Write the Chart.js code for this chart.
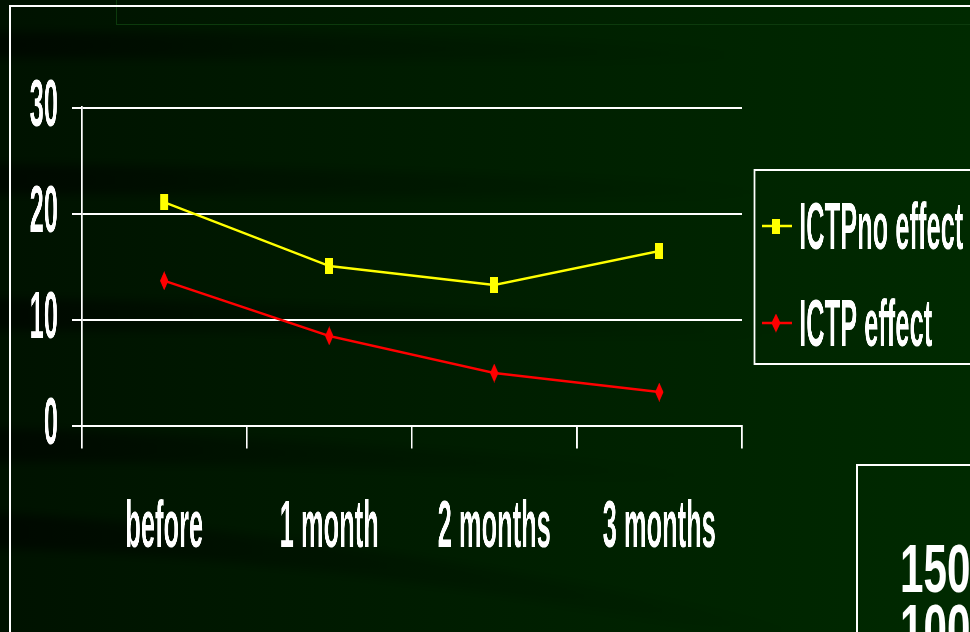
<!DOCTYPE html>
<html>
<head>
<meta charset="utf-8">
<title>ICTP</title>
<script src="https://cdn.jsdelivr.net/npm/chart.js@4.4.1/dist/chart.umd.min.js"></script>
<style>
  html, body { margin: 0; padding: 0; width: 970px; height: 632px; overflow: hidden; background: #001a00; }
  #slide { position: relative; width: 970px; height: 632px; overflow: hidden; }
  #bg { position: absolute; left: 0; top: 0; }
  /* the chart is drawn wide and squeezed horizontally, giving the tall narrow lettering */
  #wrap { position: absolute; left: 0; top: 0; width: 2600px; height: 632px;
          transform: scaleX(0.38); transform-origin: 0 0; }
  .rule-top  { position: absolute; left: 9px; top: 5px; width: 961px; height: 2px; background: #fff; }
  .rule-left { position: absolute; left: 9px; top: 5px; width: 2px; height: 627px; background: #fff; }
  .ghost { position: absolute; left: 116px; top: -10px; width: 900px; height: 33px; border: 1px solid #0c3a0c; }
  #panel { position: absolute; left: 856px; top: 464px; width: 200px; height: 220px; border: 2px solid #fff; }
  .num { position: absolute; left: 900px; font: bold 68px "Liberation Sans", Arial, sans-serif; line-height: 1;
         color: #fff; transform: scaleX(0.62); transform-origin: 0 0; white-space: nowrap; }
</style>
</head>
<body>
<div id="slide">
  <svg id="bg" width="970" height="632">
    <defs>
      <linearGradient id="base" x1="0" y1="0" x2="1" y2="0">
        <stop offset="0" stop-color="#001200"/>
        <stop offset="0.45" stop-color="#001d00"/>
        <stop offset="1" stop-color="#002a00"/>
      </linearGradient>
      <linearGradient id="fade" x1="0" y1="0" x2="1" y2="0">
        <stop offset="0" stop-color="#000" stop-opacity="0.55"/>
        <stop offset="0.35" stop-color="#000" stop-opacity="0.25"/>
        <stop offset="1" stop-color="#000" stop-opacity="0"/>
      </linearGradient>
      <filter id="soft"><feGaussianBlur stdDeviation="5"/></filter>
    </defs>
    <rect width="970" height="632" fill="url(#base)"/>
    <g filter="url(#soft)">
      <path d="M-20 32 Q 350 30 760 50 L 760 62 Q 350 60 -20 58 Z" fill="url(#fade)"/>
      <path d="M-20 164 Q 350 166 780 186 L 780 200 Q 350 194 -20 194 Z" fill="url(#fade)"/>
      <path d="M-20 298 Q 350 302 800 326 L 800 340 Q 350 332 -20 330 Z" fill="url(#fade)"/>
      <path d="M-20 428 Q 300 436 700 470 L 700 484 Q 300 462 -20 462 Z" fill="url(#fade)"/>
      <path d="M-20 512 Q 350 530 820 632 L 760 640 Q 330 556 -20 548 Z" fill="url(#fade)"/>
    </g>
  </svg>
  <div class="ghost"></div>
  <div class="rule-top"></div>
  <div class="rule-left"></div>
  <div id="panel"></div>
  <div class="num" style="top:534px">150</div>
  <div class="num" style="top:594px">100</div>
  <div id="wrap"><canvas id="chart"></canvas></div>
</div>
<script>
// Series data
const categories = ['before', '1 month', '2 months', '3 months'];
const noEffectValues = [21.1, 15.1, 13.3, 16.5];
const effectValues = [13.7, 8.5, 5.0, 3.2];
const seriesNames = ['ICTPno effect', 'ICTP effect'];
const yTicks = [0, 10, 20, 30];

const FONT = '"Liberation Sans", Arial, sans-serif';
const LABEL_SIZE = 67;

// Point markers (drawn in the wide coordinate space, so they appear tall and narrow)
function rectMarker(w, h, color) {
  const c = document.createElement('canvas');
  c.width = w; c.height = h;
  const g = c.getContext('2d');
  g.fillStyle = color;
  g.fillRect(0, 0, w, h);
  return c;
}
function diamondMarker(w, h, color) {
  const c = document.createElement('canvas');
  c.width = w; c.height = h;
  const g = c.getContext('2d');
  g.fillStyle = color;
  g.beginPath();
  g.moveTo(w / 2, 0); g.lineTo(w, h / 2); g.lineTo(w / 2, h); g.lineTo(0, h / 2);
  g.closePath(); g.fill();
  return c;
}
const yellowMark = rectMarker(21, 16, '#ffff00');
const redMark = diamondMarker(22, 19, '#ff0000');

// Boxed legend at the right of the plot
const boxedLegend = {
  id: 'boxedLegend',
  afterDraw(chart) {
    const ctx = chart.ctx;
    const box = { left: 1983, top: 169, right: 2620, bottom: 365 };
    ctx.save();
    ctx.fillStyle = '#ffffff';
    ctx.fillRect(box.left, box.top, box.right - box.left, 2);
    ctx.fillRect(box.left, box.bottom - 2, box.right - box.left, 2);
    ctx.fillRect(box.left, box.top, 5, box.bottom - box.top);
    const rows = [226, 323];
    chart.data.datasets.forEach((ds, i) => {
      const y = rows[i];
      ctx.strokeStyle = ds.borderColor;
      ctx.lineWidth = 2.5;
      ctx.beginPath();
      ctx.moveTo(2005, y); ctx.lineTo(2084, y);
      ctx.stroke();
      const m = ds.legendMark;
      ctx.drawImage(m, 2042 - m.width / 2, y - m.height / 2);
      ctx.fillStyle = '#ffffff';
      ctx.font = 'bold ' + LABEL_SIZE + 'px ' + FONT;
      ctx.textBaseline = 'alphabetic';
      ctx.textAlign = 'left';
      ctx.fillText(ds.label, 2103, y + 23);
    });
    ctx.restore();
  }
};

new Chart(document.getElementById('chart'), {
  type: 'line',
  data: {
    labels: categories,
    datasets: [
      {
        label: seriesNames[0],
        data: noEffectValues,
        borderColor: '#ffff00',
        backgroundColor: '#ffff00',
        borderWidth: 2.5,
        pointStyle: yellowMark,
        legendMark: rectMarker(21, 15, '#ffff00'),
        fill: false,
        tension: 0
      },
      {
        label: seriesNames[1],
        data: effectValues,
        borderColor: '#ff0000',
        backgroundColor: '#ff0000',
        borderWidth: 2.5,
        pointStyle: redMark,
        legendMark: diamondMarker(24, 19, '#ff0000'),
        fill: false,
        tension: 0
      }
    ]
  },
  options: {
    responsive: true,
    maintainAspectRatio: false,
    animation: false,
    events: [],
    layout: { padding: { left: 0, top: 108, right: 648, bottom: 55 } },
    plugins: { legend: { display: false }, tooltip: { enabled: false } },
    scales: {
      x: {
        offset: true,
        afterFit(scale) { scale.height = 151; },
        grid: {
          offset: true,
          drawOnChartArea: false,
          drawTicks: true,
          tickLength: 22.5,
          color: '#ffffff',
          lineWidth: 4.5
        },
        border: { display: true, color: '#ffffff', width: 2 },
        ticks: {
          color: '#ffffff',
          padding: 40,
          maxRotation: 0,
          autoSkip: false,
          font: { family: FONT, size: LABEL_SIZE, weight: 'bold' }
        }
      },
      y: {
        min: yTicks[0],
        max: yTicks[yTicks.length - 1],
        afterFit(scale) { scale.width = 215; },
        afterBuildTicks(scale) { scale.ticks = yTicks.map(v => ({ value: v })); },
        grid: {
          color: '#ffffff',
          lineWidth: 2,
          drawTicks: true,
          tickLength: 25.5
        },
        border: { display: true, color: '#ffffff', width: 4.5 },
        ticks: {
          color: '#ffffff',
          padding: 37,
          font: { family: FONT, size: LABEL_SIZE, weight: 'bold' }
        }
      }
    }
  },
  plugins: [boxedLegend]
});
</script>
</body>
</html>
